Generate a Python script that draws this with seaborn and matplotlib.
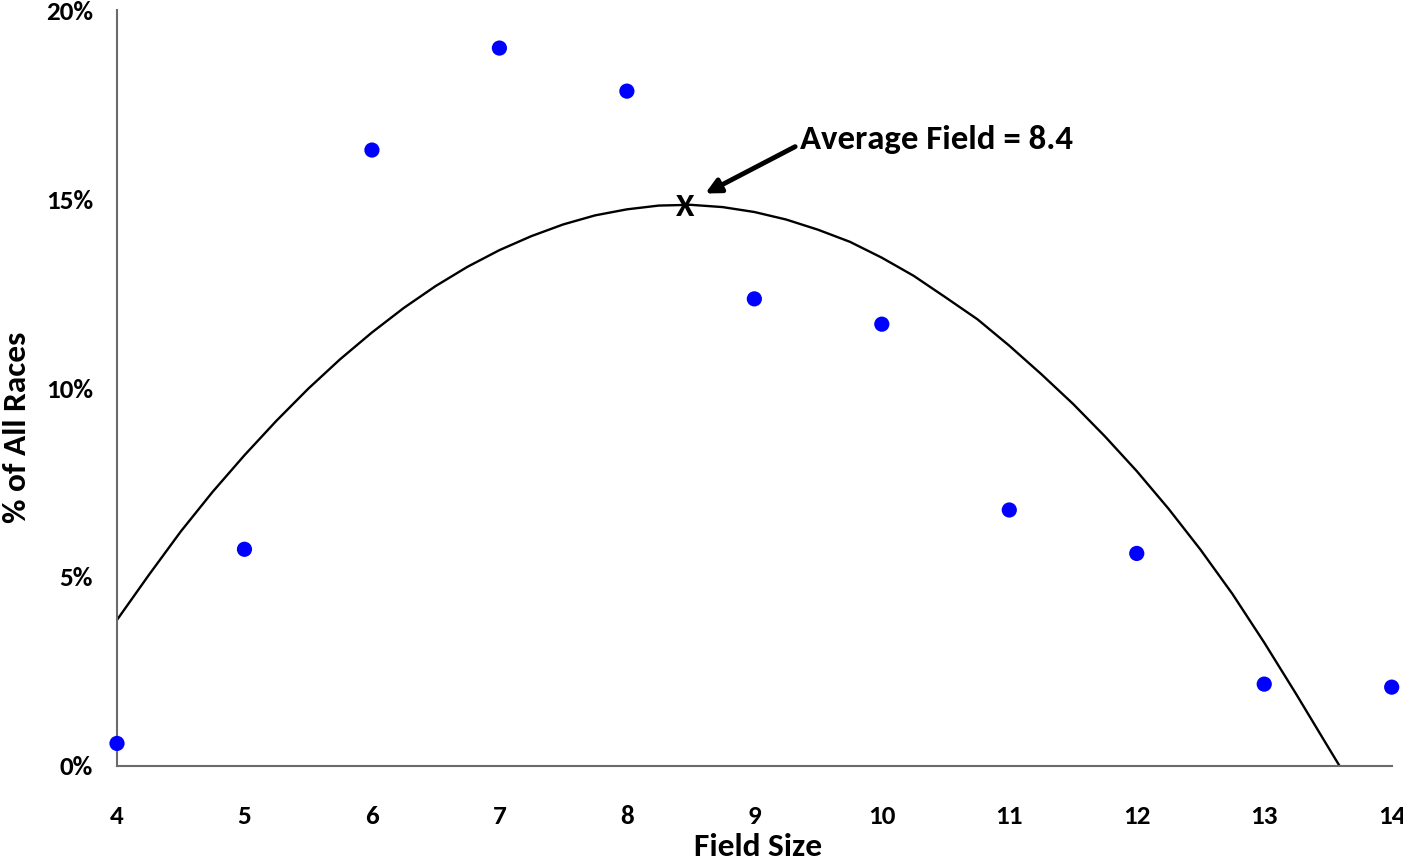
import matplotlib
matplotlib.use("Agg")
import matplotlib.pyplot as plt
import seaborn as sns
import pandas as pd
from matplotlib.ticker import FuncFormatter

# ---- data ----
field_size = [4, 5, 6, 7, 8, 9, 10, 11, 12, 13, 14]
pct_races = [0.59, 5.73, 16.30, 19.00, 17.86, 12.36, 11.69, 6.77, 5.62, 2.16, 2.08]

# trend curve
curve_x = [4.00, 4.25, 4.50, 4.75, 5.00, 5.25, 5.50, 5.75, 6.00, 6.25, 6.50, 6.75,
           7.00, 7.25, 7.50, 7.75, 8.00, 8.25, 8.50, 8.75, 9.00, 9.25, 9.50, 9.75,
           10.00, 10.25, 10.50, 10.75, 11.00, 11.25, 11.50, 11.75, 12.00, 12.25,
           12.50, 12.75, 13.00, 13.25, 13.50, 13.59]
curve_y = [3.86, 5.05, 6.20, 7.25, 8.22, 9.13, 9.98, 10.76, 11.47, 12.12, 12.70, 13.21,
           13.65, 14.02, 14.33, 14.57, 14.73, 14.83, 14.85, 14.79, 14.66, 14.46, 14.19, 13.87,
           13.45, 12.97, 12.40, 11.82, 11.12, 10.37, 9.58, 8.72, 7.80, 6.80,
           5.72, 4.55, 3.26, 1.90, 0.50, 0.00]

avg_field_x = 8.46
avg_field_y = 14.78
annot_text = "Average Field = 8.4"
x_ticks = [4, 5, 6, 7, 8, 9, 10, 11, 12, 13, 14]
y_ticks = [0, 5, 10, 15, 20]

sns.set_style("white")
plt.rcParams["font.family"] = ["Carlito", "DejaVu Sans"]
plt.rcParams["font.weight"] = "bold"
plt.rcParams["text.color"] = "black"
plt.rcParams["xtick.labelcolor"] = "black"
plt.rcParams["ytick.labelcolor"] = "black"

W, H = 1403, 860
fig = plt.figure(figsize=(W / 100, H / 100), dpi=100)
ax = fig.add_axes([117 / W, (H - 765.7) / H, (1391.7 - 117) / W, (765.7 - 10.3) / H])

pts = pd.DataFrame({"Field Size": field_size, "Pct": pct_races})
crv = pd.DataFrame({"x": curve_x, "y": curve_y})

sns.lineplot(data=crv, x="x", y="y", ax=ax, color="black", linewidth=1.7,
             sort=False, estimator=None, zorder=2)
sns.scatterplot(data=pts, x="Field Size", y="Pct", ax=ax, color="#0000FF",
                s=120, edgecolor="none", zorder=3, clip_on=False)

ax.set_xlim(4, 14)
ax.set_ylim(0, 20)
ax.set_xticks(x_ticks)
ax.set_yticks(y_ticks)
ax.yaxis.set_major_formatter(FuncFormatter(lambda v, p: f"{v:.0f}%"))

for s in ["top", "right"]:
    ax.spines[s].set_visible(False)
for s in ["left", "bottom"]:
    ax.spines[s].set_color("#6b6b6b")
    ax.spines[s].set_linewidth(1.5)

ax.tick_params(axis="y", direction="out", length=7.2, width=1.5, color="#6b6b6b",
               pad=10, labelsize=19.5, labelcolor="black")
ax.tick_params(axis="x", length=0, pad=28, labelsize=19.5, labelcolor="black")
for lab in ax.get_xticklabels() + ax.get_yticklabels():
    lab.set_fontweight("bold")

ax.set_xlabel("")
ax.set_ylabel("")
fig.text(758 / W, 1 - 847 / H, "Field Size", ha="center", va="center",
         fontsize=24, fontweight="bold", color="black")
fig.text(17 / W, 1 - 427 / H, "% of All Races", ha="center", va="center",
         rotation=90, fontsize=24, fontweight="bold", color="black")

ax.text(avg_field_x, avg_field_y, "X", ha="center", va="center", fontsize=24,
        fontweight="bold", zorder=4, color="black")
ax.annotate("", xy=(8.615, 15.15), xytext=(9.32, 16.39),
            arrowprops=dict(arrowstyle="-|>", color="black", lw=3.5,
                            mutation_scale=22, shrinkA=0, shrinkB=0))
ax.text(9.36, 16.57, annot_text, ha="left", va="center", fontsize=25,
        fontweight="bold", color="black")

fig.savefig("out.png", dpi=100)
